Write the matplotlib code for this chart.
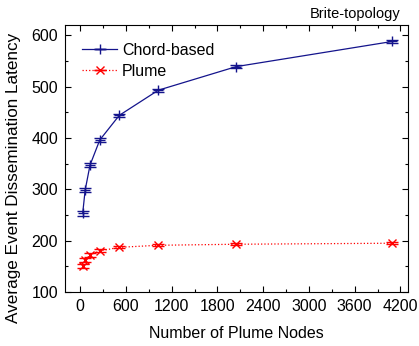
import matplotlib
matplotlib.use("Agg")
import matplotlib.pyplot as plt
from matplotlib.ticker import MultipleLocator
from matplotlib.legend_handler import HandlerErrorbar

plt.rcParams['font.family'] = ['Liberation Sans', 'DejaVu Sans']

nodes = [32, 64, 128, 256, 512, 1024, 2048, 4096]
chord = [253, 298, 347, 396, 444, 493, 539, 588]
chord_err = [5, 4, 4, 3, 3, 3, 3, 3]
plume = [151, 162, 172, 180, 187, 191, 193, 195]
plume_err = [4, 4, 3, 3, 2, 2, 2, 2]

fig = plt.figure(figsize=(4.19, 3.46), dpi=100)
ax = fig.add_axes([65/419, 1-292/346, (408-65)/419, (292-25)/346])

navy = '#14148c'
ax.errorbar(nodes, chord, yerr=chord_err, color=navy, lw=0.9, marker='+', ms=7,
            mew=1.0, capsize=4.5, capthick=1.0, elinewidth=1.0, label='Chord-based')
ax.errorbar(nodes, plume, yerr=plume_err, color='#ff0000', lw=0.9, ls=':', marker='x', ms=5.5,
            mew=1.0, capsize=4.5, capthick=1.0, elinewidth=1.0, label='Plume')

ax.set_xlim(-200, 4300)
ax.set_ylim(100, 620)
ax.xaxis.set_major_locator(MultipleLocator(600))
ax.xaxis.set_minor_locator(MultipleLocator(300))
ax.yaxis.set_major_locator(MultipleLocator(100))
ax.yaxis.set_minor_locator(MultipleLocator(50))
ax.tick_params(which='both', direction='in', top=True, right=True, labelsize=11.5)
ax.tick_params(which='major', length=4, width=0.8, pad=5)
ax.tick_params(which='minor', length=2.5, width=0.8)
for s in ax.spines.values():
    s.set_linewidth(0.8)

ax.set_xlabel('Number of Plume Nodes', fontsize=11.5, labelpad=9)
fig.text(14/419, 1-178/346, 'Average Event Dissemination Latency', rotation=90,
         ha='center', va='center', fontsize=12.3)

ax.legend(loc='upper left', bbox_to_anchor=((82-65)/343, (292-43)/267), frameon=False,
          fontsize=11.5, handlelength=2.2, handletextpad=0.3, borderaxespad=0, borderpad=0,
          labelspacing=0.35,
          handler_map={type(ax.containers[0]): HandlerErrorbar(xerr_size=0, yerr_size=0)})

fig.text(400/419, 1-14/346, 'Brite-topology', ha='right', va='center', fontsize=10.5)

fig.savefig('out.png', dpi=100)
